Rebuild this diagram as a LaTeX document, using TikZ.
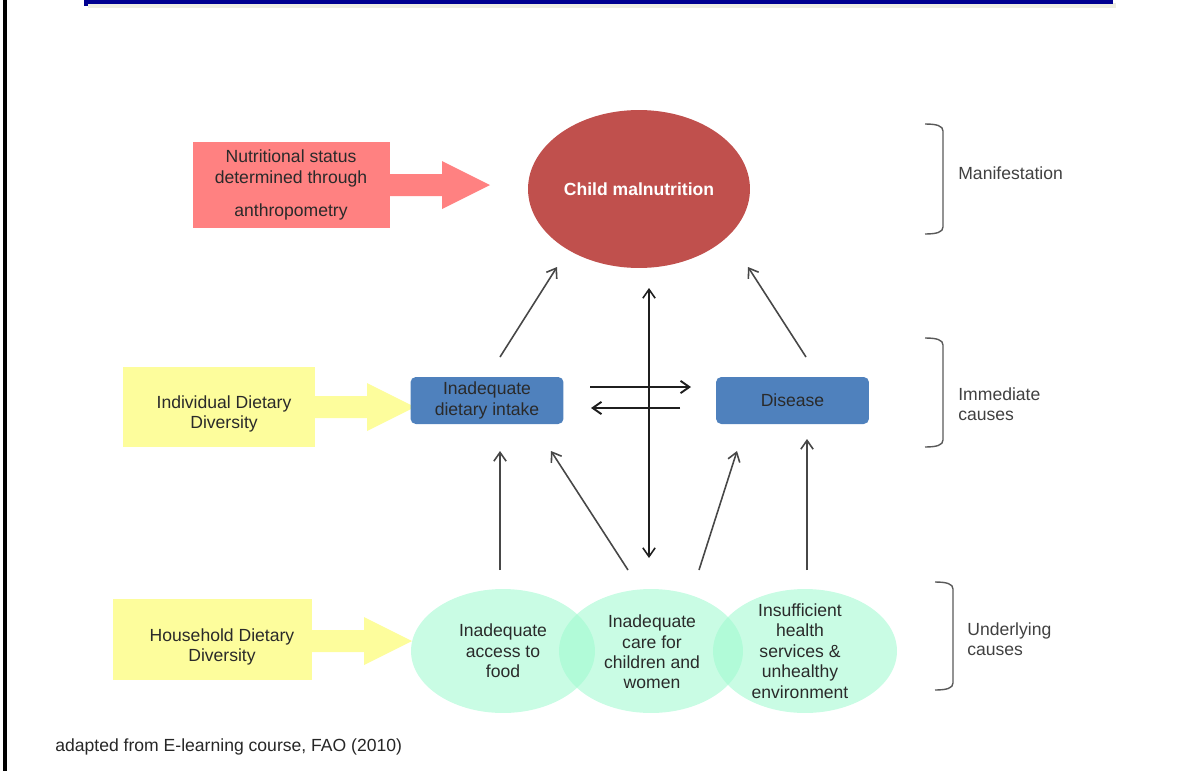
\documentclass[tikz,border=0pt]{standalone}
\usepackage{fontspec}
\setmainfont{Liberation Sans}
\usepackage{xcolor}
\usetikzlibrary{arrows,arrows.meta,shapes.geometric}

\definecolor{navybar}{HTML}{000090}
\definecolor{barshade}{HTML}{EEEEE2}
\definecolor{statuspink}{HTML}{FF8181}
\definecolor{dietyellow}{HTML}{FDFD9C}
\definecolor{malred}{HTML}{C0504D}
\definecolor{causeblue}{HTML}{4F81BD}
\definecolor{causemint}{RGB}{158,250,207}
\definecolor{inkgray}{HTML}{2A2A2A}

\newcommand\fatarrow[3]{\fill[#3] (#1,#2-11) -- ++(52,0) -- ++(0,-13) -- ++(48,24) -- ++(-48,24) -- ++(0,-13) -- ++(-52,0) -- cycle;}
\newcommand\levelbrace[3]{\draw[gray!70!black, line width=0.8pt] (#1,#2) .. controls (#1+12,#2) and (#1+18,#2+2) .. (#1+18,#2+7) -- (#1+18,#3-7) .. controls (#1+18,#3-2) and (#1+12,#3) .. (#1,#3);}

\begin{document}
\begin{tikzpicture}[x=0.02cm,y=-0.02cm]

\tikzset{
  txt/.style={font=\fontsize{10}{11.6}\selectfont, text=inkgray, align=center, inner sep=0pt},
  sidetxt/.style={txt, text=black!75, align=left, anchor=west},
  bluebox/.style={txt, fill=causeblue, rounded corners=3pt, minimum width=3.06cm, minimum height=0.94cm},
  cause/.style={ellipse, fill=causemint, fill opacity=0.56, text opacity=1, minimum width=3.68cm, minimum height=2.48cm},
  arr/.style={-{Straight Barb[length=5pt,width=7pt]}, line width=0.9pt, draw=black!72},
  twoarr/.style={{Straight Barb[length=5pt,width=7pt]}-{Straight Barb[length=5pt,width=7pt]}, line width=0.9pt, draw=black!88}
}

\useasboundingbox (0,0) rectangle (1190,771);
\fill[black] (3,0) rectangle (7,771);
\fill[barshade] (88,3) rectangle (1116,8);
\fill[navybar] (84,0) rectangle (1113,4);
\fill[navybar] (84,0) rectangle (88,6);

\node[ellipse, fill=malred, minimum width=4.44cm, minimum height=3.16cm] (malnut) at (639,189) {};
\node[txt, text=white, font=\fontsize{10}{12}\bfseries] (malnuttext) at (639,189) {Child malnutrition};

\node[fill=statuspink, minimum width=3.94cm, minimum height=1.72cm] (status) at (291.5,185) {};
\node[txt] (statustext) at (291,185) {Nutritional status\\determined through\\[0.26cm]anthropometry};
\fatarrow{390}{185}{statuspink}

\node[fill=dietyellow, minimum width=3.84cm, minimum height=1.6cm] (idd) at (219,407) {};
\node[txt] (iddtext) at (224,414) {Individual Dietary\\Diversity};
\fatarrow{315}{407}{dietyellow}

\node[fill=dietyellow, minimum width=3.98cm, minimum height=1.62cm] (hdd) at (212.5,639.5) {};
\node[txt] (hddtext) at (222,647) {Household Dietary\\Diversity};
\fatarrow{312}{641}{dietyellow}

\node[bluebox] (intake) at (487,400.5) {Inadequate\\dietary intake};
\node[bluebox] (disease) at (792.5,400.5) {Disease};

\node[cause] (food) at (503,651) {};
\node[cause] (care) at (651,651) {};
\node[cause] (health) at (805,651) {};
\node[txt] (foodtext) at (503,651) {Inadequate\\access to\\food};
\node[txt] (caretext) at (652,652) {Inadequate\\care for\\children and\\women};
\node[txt] (healthtext) at (800,651) {Insufficient\\health\\services \&\\unhealthy\\environment};

\coordinate (intakeup) at (500,357);
\coordinate (malleft) at (557,267);
\coordinate (diseaseup) at (806,357);
\coordinate (malright) at (748,267);
\coordinate (maldown) at (649,288);
\coordinate (careup) at (649,558);
\draw[arr] (intakeup) -- (malleft);
\draw[arr] (diseaseup) -- (malright);
\draw[twoarr] (maldown) -- (careup);

\coordinate (toright) at (590,387);
\coordinate (fromleft) at (691,387);
\coordinate (toleft) at (680,408);
\coordinate (fromright) at (591,408);
\draw[arr, draw=black!88, line width=1.1pt] (toright) -- (fromleft);
\draw[arr, draw=black!88, line width=1.1pt] (toleft) -- (fromright);

\coordinate (foodup) at (500,570);
\coordinate (intakedown) at (500,451);
\coordinate (careleft) at (628,570);
\coordinate (intakeright) at (551,451);
\coordinate (careright) at (699,570);
\coordinate (diseaseleft) at (737,451);
\coordinate (healthup) at (807,570);
\coordinate (diseasedown) at (807,439);
\draw[arr] (foodup) -- (intakedown);
\draw[arr] (careleft) -- (intakeright);
\draw[arr] (careright) -- (diseaseleft);
\draw[arr] (healthup) -- (diseasedown);

\levelbrace{925}{124}{234}
\levelbrace{925}{338}{447}
\levelbrace{935}{582}{690}
\node[sidetxt] (manif) at (958,173) {Manifestation};
\node[sidetxt] (immed) at (958,404) {Immediate\\causes};
\node[sidetxt] (under) at (967,639) {Underlying\\causes};

\node[txt, anchor=west, text=black!85] (source) at (55,747) {adapted from E-learning course, FAO (2010)};

\end{tikzpicture}
\end{document}
